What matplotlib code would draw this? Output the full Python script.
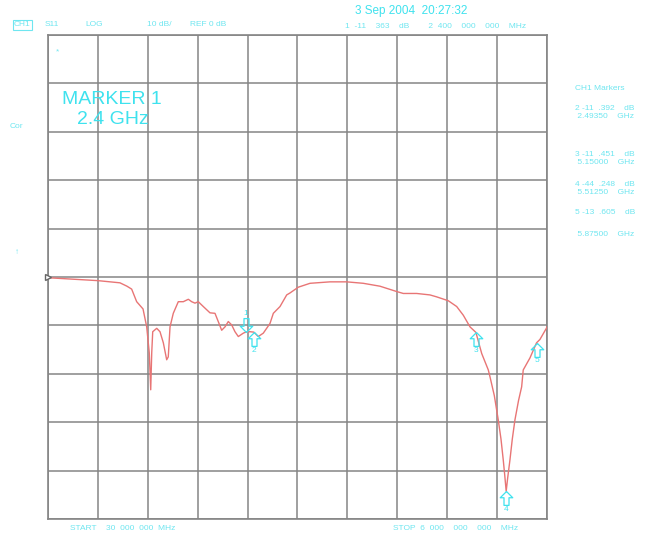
import numpy as np
import matplotlib
matplotlib.use("Agg")
import matplotlib.pyplot as plt
from matplotlib.path import Path

# S11 trace (MHz, dB)
freq_mhz = [30, 628, 891, 975, 1031, 1091, 1167, 1211, 1242, 1259, 1271, 1283,
            1331, 1370, 1410, 1450, 1469, 1490, 1529, 1589, 1649, 1709, 1749,
            1789, 1828, 1888, 1968, 2028, 2067, 2108, 2148, 2187, 2228, 2267,
            2307, 2367, 2400, 2447, 2493, 2546, 2606, 2686, 2726, 2806, 2886,
            2925, 3025, 3165, 3404, 3604, 3802, 4002, 4202, 4281, 4441, 4600,
            4680, 4819, 4920, 4999, 5079, 5150, 5219, 5298, 5318, 5370, 5417,
            5450, 5477, 5495, 5512, 5530, 5557, 5585, 5617, 5660, 5697, 5716,
            5797, 5875, 5916, 5996, 6000]
s11_db = [-0.15, -0.75, -1.2, -1.9, -2.5, -5.1, -6.6, -10.3, -15.7, -23.3, -15.7,
          -11.3, -10.6, -11.3, -13.6, -17.1, -16.5, -10.3, -7.5, -5.1, -5.1, -4.6,
          -5.1, -5.4, -5.1, -6.1, -7.4, -7.5, -9.2, -11.0, -10.3, -9.2, -9.9,
          -11.3, -12.3, -11.6, -11.36, -11.3, -11.39, -12.3, -11.6, -9.6, -7.5,
          -6.1, -3.7, -3.3, -2.1, -1.3, -1.0, -1.0, -1.3, -1.9, -3.0, -3.4, -3.4,
          -3.7, -4.1, -4.9, -6.1, -7.9, -10.3, -11.45, -15.8, -19.2, -20.6,
          -24.5, -29.5, -33.5, -37.8, -41.0, -44.25, -41.5, -37.8, -33.5, -29.5,
          -25.5, -22.7, -19.2, -16.7, -13.6, -12.9, -10.5, -10.3]

marker_ids = ["1", "2", "3", "4", "5"]
marker_ghz = [2.4, 2.4935, 5.15, 5.5125, 5.875]
marker_db = [-11.363, -11.392, -11.451, -44.248, -13.605]

start_mhz, stop_mhz = 30, 6000
ref_db, scale_db = 0, 10

cyan = "#3fe2ee"
cyan_small = "#6fe6f0"
font = "Liberation Sans"

fig = plt.figure(figsize=(6.46, 5.37), dpi=100)
ax = fig.add_axes([0.0743, 0.0335, 0.7724, 0.9013])
ax.set_xlim(start_mhz, stop_mhz)
ax.set_ylim(ref_db - 5 * scale_db, ref_db + 5 * scale_db)
ax.set_xticks(np.linspace(start_mhz, stop_mhz, 11))
ax.set_yticks(np.arange(-50, 51, scale_db))
ax.grid(True, color="#858585", linewidth=1.1)
ax.tick_params(length=0, labelbottom=False, labelleft=False)
for s in ax.spines.values():
    s.set_color("#858585")
    s.set_linewidth(1.2)

ax.plot(freq_mhz, s11_db, color="#e87575", linewidth=1.0, zorder=3)

# reference level triangle
ax.plot([start_mhz], [ref_db], marker=">", markersize=5, markerfacecolor="white",
        markeredgecolor="#666666", clip_on=False, zorder=4)

# hollow arrow marker with the tip at the origin
arrow_up = Path([(0, 0), (-0.45, -0.45), (-0.18, -0.45), (-0.18, -1.0),
                 (0.18, -1.0), (0.18, -0.45), (0.45, -0.45), (0, 0)])
arrow_down = Path([(x, -y) for x, y in arrow_up.vertices])
for mid, f, d in zip(marker_ids, marker_ghz, marker_db):
    if mid == "1":
        ax.plot(f * 1000, d, marker=arrow_down, markersize=20, markerfacecolor="none",
                markeredgecolor=cyan, markeredgewidth=0.9, zorder=5)
        ax.annotate(mid, (f * 1000, d), xytext=(0, 13), textcoords="offset points",
                    ha="center", va="center", fontsize=6, color=cyan, family=font)
    else:
        ax.plot(f * 1000, d, marker=arrow_up, markersize=20, markerfacecolor="none",
                markeredgecolor=cyan, markeredgewidth=0.9, zorder=5)
        ax.annotate(mid, (f * 1000, d), xytext=(0, -13), textcoords="offset points",
                    ha="center", va="center", fontsize=6, color=cyan, family=font)


def px(x, y, s, size=6, color=cyan_small, **kw):
    fig.text(x / 646, 1 - y / 537, s, fontsize=size, color=color, family=font,
             va="center", **kw)


# header
px(14, 25, "CH1", bbox=dict(boxstyle="square,pad=0.15", fc="none", ec=cyan_small, lw=0.8))
px(45, 25, "S11")
px(85, 25, "LOG")
px(147, 25, "10 dB/")
px(190, 25, "REF 0 dB")
px(355, 11, "3 Sep 2004  20:27:32", size=8.5, color=cyan)
px(345, 26, "1  -11    363    dB        2  400    000    000    MHz")

# footer
px(70, 528, "START    30  000  000  MHz")
px(393, 528, "STOP  6  000    000    000    MHz")

# left side labels
px(10, 126, "Cor")
px(15, 253, "↑", size=6)
px(56, 52, "*", size=6)
px(62, 100, "MARKER 1", size=14, color=cyan)
px(77, 120, "2.4 GHz", size=14, color=cyan)

# marker table on the right
px(575, 88, "CH1 Markers")
table_rows = [(108, "2 -11  .392    dB"), (117, " 2.49350    GHz"),
              (155, "3 -11  .451    dB"), (163, " 5.15000    GHz"),
              (185, "4 -44  .248    dB"), (193, " 5.51250    GHz"),
              (213, "5 -13  .605    dB"), (234, " 5.87500    GHz")]
for y, s in table_rows:
    px(575, y, s)

fig.savefig("out.png", dpi=100)
